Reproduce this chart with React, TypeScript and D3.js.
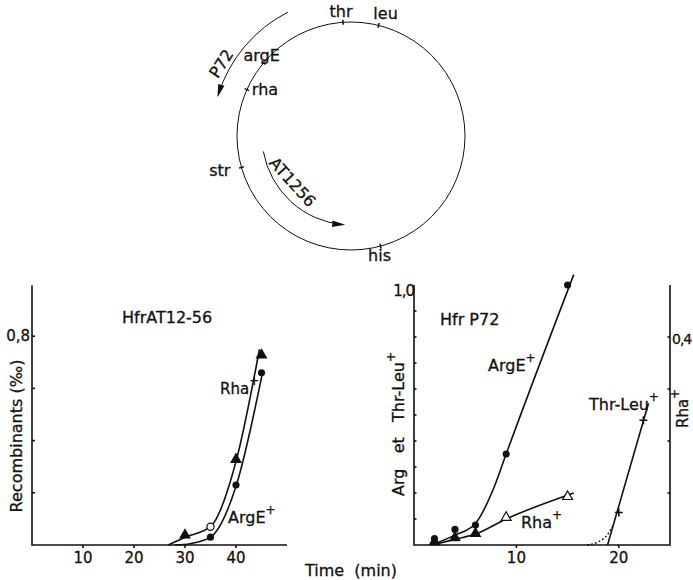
import React, { useEffect, useRef } from 'react';
import * as d3 from 'd3';

// Chromosome map (angle in degrees, clockwise from the top)
const genes = ['thr', 'leu', 'argE', 'rha', 'str', 'his'];
const geneAngles = [-4, 14, -50, -66, -106, 165];

// Hfr AT12-56 panel
const leftTimes = [30, 35, 40, 45];
const leftRha = [0.03, 0.07, 0.32, 0.72];
const leftArgETimes = [35, 40, 45];
const leftArgE = [0.03, 0.23, 0.66];
const leftRhaCurveT = [26.7, 30, 35, 40, 44.6];
const leftRhaCurveV = [0, 0.03, 0.07, 0.32, 0.75];
const leftArgECurveT = [28, 31, 35, 40, 45.3];
const leftArgECurveV = [0, 0.005, 0.03, 0.225, 0.67];

// Hfr P72 panel
const rightTimes = [2, 4, 6, 9, 15];
const rightArgE = [0.025, 0.06, 0.077, 0.35, 1.0];
const rightRha = [0.004, 0.012, 0.02, 0.051, 0.091]; // right axis
const rightThrLeuTimes = [20, 22.4];
const rightThrLeu = [0.125, 0.48];
const argECurveT = [2, 4, 6, 7.8, 9, 15.6];
const argECurveV = [0.005, 0.038, 0.083, 0.22, 0.35, 1.04];
const rhaCurveT = [2.2, 4, 6, 9, 15.6];
const rhaCurveV = [0.002, 0.011, 0.021, 0.05, 0.1];
const thrLeuCurveT = [18.9, 22.9];
const thrLeuCurveV = [0, 0.545];
const thrLeuDotT = [16.9, 18, 18.9, 19.5];
const thrLeuDotV = [0, 0.012, 0.04, 0.08];

const FONT = "'DejaVu Sans', sans-serif";

const App = () => {
  const width = 693;
  const height = 580;
  const svgRef = useRef(null);

  useEffect(() => {
    const root = d3.select(svgRef.current);
    root.selectAll('*').remove();
    const svg = root.append('g').attr('font-family', FONT).attr('fill', '#111');

    // text helper; sup adds a raised "+"
    const txt = (x, y, s, size = 16, anchor = 'start', rotate = 0, sup = false) => {
      const t = svg
        .append('text')
        .attr('transform', `translate(${x},${y}) rotate(${rotate})`)
        .attr('text-anchor', anchor)
        .attr('font-size', size)
        .attr('stroke', '#111')
        .attr('stroke-width', 0.3)
        .style('white-space', 'pre');
      t.append('tspan').text(s);
      if (sup) t.append('tspan').attr('dy', -9).attr('font-size', 12).text('+');
      return t;
    };

    // ---------- chromosome circle ----------
    const cx = 351;
    const cy = 136;
    const r = 114;
    const rad = (deg) => ((deg - 90) * Math.PI) / 180;
    svg.append('circle').attr('cx', cx).attr('cy', cy).attr('r', r)
      .attr('fill', 'none').attr('stroke', '#111').attr('stroke-width', 1);

    const labelOffsets = {
      thr: [-2, -5, 'middle'],
      leu: [7, -6, 'middle'],
      argE: [-2, -2, 'middle'],
      rha: [5, 5, 'start'],
      str: [-11, 9, 'end'],
      his: [-1, 15, 'middle'],
    };
    genes.forEach((g, i) => {
      const a = rad(geneAngles[i]);
      const x = cx + r * Math.cos(a);
      const y = cy + r * Math.sin(a);
      svg.append('line')
        .attr('x1', cx + (r - 2.5) * Math.cos(a)).attr('y1', cy + (r - 2.5) * Math.sin(a))
        .attr('x2', cx + (r + 2.5) * Math.cos(a)).attr('y2', cy + (r + 2.5) * Math.sin(a))
        .attr('stroke', '#111').attr('stroke-width', 1.5);
      const [dx, dy, anchor] = labelOffsets[g];
      txt(x + dx, y + dy, g, 16, anchor);
    });

    // arrows along concentric arcs
    const arrowArc = (radius, a0, a1, label, labelR, labelRot) => {
      const p = d3.path();
      p.arc(cx, cy, radius, rad(a0), rad(a1), a1 < a0);
      svg.append('path').attr('d', p.toString()).attr('fill', 'none')
        .attr('stroke', '#111').attr('stroke-width', 1);
      const e = rad(a1);
      const ex = cx + radius * Math.cos(e);
      const ey = cy + radius * Math.sin(e);
      // tangent for a counter-clockwise move
      const tx = Math.sin(e);
      const ty = -Math.cos(e);
      const nx = Math.cos(e);
      const ny = Math.sin(e);
      const L = 11;
      const W = 3.2;
      svg.append('path')
        .attr('d', `M${ex + tx * 2},${ey + ty * 2} L${ex - tx * L + nx * W},${ey - ty * L + ny * W} L${ex - tx * L - nx * W},${ey - ty * L - ny * W}Z`)
        .attr('fill', '#111');
      const m = rad((a0 + a1) / 2 + labelR[1]);
      txt(cx + labelR[0] * Math.cos(m), cy + labelR[0] * Math.sin(m), label, 16, 'middle', labelRot);
    };
    arrowArc(139, -27, -73, 'P72', [143, -11], -57);
    arrowArc(89, 260, 185, 'AT1256', [80, 9], 48);

    // ---------- left panel ----------
    const xL = d3.scaleLinear().domain([0, 50]).range([32, 287]);
    const yL = d3.scaleLinear().domain([0, 1]).range([545, 284]);
    const axisStroke = (sel) => sel.attr('stroke', '#111').attr('stroke-width', 1.6).attr('fill', 'none');

    axisStroke(svg.append('path').attr('d', `M${xL(0)},${yL(0.995)}V${yL(0)}H${xL(50)}`));
    [0.2, 0.4, 0.6, 0.8].forEach((v) =>
      axisStroke(svg.append('line').attr('x1', xL(0)).attr('x2', xL(0) + 3).attr('y1', yL(v)).attr('y2', yL(v))));
    [10, 20, 30, 40].forEach((t) => {
      axisStroke(svg.append('line').attr('x1', xL(t)).attr('x2', xL(t)).attr('y1', yL(0)).attr('y2', yL(0) + 3));
      txt(xL(t), 563, String(t), 15, 'middle');
    });
    txt(30, 341, '0,8', 15, 'end');
    txt(22, 436, 'Recombinants (‰)', 16, 'middle', -90);
    txt(122, 323, 'HfrAT12-56', 16);

    const line = (xs, ys, curve) =>
      d3.line().x((d) => xs(d[0])).y((d) => ys(d[1])).curve(curve);

    axisStroke(svg.append('path')
      .attr('d', line(xL, yL, d3.curveMonotoneX)(leftRhaCurveT.map((t, i) => [t, leftRhaCurveV[i]])))
      .attr('stroke-width', 1.5));
    axisStroke(svg.append('path')
      .attr('d', line(xL, yL, d3.curveMonotoneX)(leftArgECurveT.map((t, i) => [t, leftArgECurveV[i]])))
      .attr('stroke-width', 1.5));

    const tri = d3.symbol().type(d3.symbolTriangle).size(42);
    const circ = d3.symbol().type(d3.symbolCircle).size(40);
    leftTimes.forEach((t, i) => {
      const open = t === 35;
      svg.append('path').attr('d', open ? circ() : tri())
        .attr('transform', `translate(${xL(t)},${yL(leftRha[i]) - (open ? 0 : 2)})`)
        .attr('fill', open ? '#fff' : '#111').attr('stroke', '#111').attr('stroke-width', 1.2);
    });
    leftArgETimes.forEach((t, i) => {
      svg.append('path').attr('d', circ()).attr('transform', `translate(${xL(t)},${yL(leftArgE[i])})`)
        .attr('fill', '#111');
    });
    txt(220, 394, 'Rha', 15, 'start', 0, true);
    txt(228, 523, 'ArgE', 16, 'start', 0, true);
    txt(305, 576, 'Time  (min)', 16);

    // ---------- right panel ----------
    const xR = d3.scaleLinear().domain([0, 25]).range([414, 670]);
    const yR = d3.scaleLinear().domain([0, 1]).range([545, 285]);
    const yR2 = d3.scaleLinear().domain([0, 0.5]).range([545, 285]);

    axisStroke(svg.append('path').attr('d', `M${xR(0)},${yR(1)}V${yR(0)}H${xR(25)}V${yR2(0.5)}`));
    d3.range(1, 10).forEach((k) =>
      axisStroke(svg.append('line').attr('x1', xR(0)).attr('x2', xR(0) + 2.5)
        .attr('y1', yR(k / 10)).attr('y2', yR(k / 10)).attr('stroke-width', 1.2)));
    [0.1, 0.2, 0.3, 0.4].forEach((v) =>
      axisStroke(svg.append('line').attr('x1', xR(25)).attr('x2', xR(25) - 2.5)
        .attr('y1', yR2(v)).attr('y2', yR2(v)).attr('stroke-width', 1.2)));
    [10, 20].forEach((t) => {
      axisStroke(svg.append('line').attr('x1', xR(t)).attr('x2', xR(t)).attr('y1', yR(0)).attr('y2', yR(0) + 3));
      txt(xR(t), 563, String(t), 15, 'middle');
    });
    txt(414, 296, '1,0', 15, 'end').attr('letter-spacing', -1);
    txt(672, 344, '0,4', 14, 'start').attr('letter-spacing', -1);
    txt(404, 424, 'Arg   et   Thr-Leu', 16, 'middle', -90, true);
    txt(688, 428, 'Rha', 15, 'start', -90, true);
    txt(440, 325, 'Hfr P72', 16);

    const rPath = (xs, ys, ts, vs, curve, dash = null) => {
      const p = axisStroke(svg.append('path')
        .attr('d', line(xs, ys, curve)(ts.map((t, i) => [t, vs[i]])))
        .attr('stroke-width', 1.5));
      if (dash) p.attr('stroke-dasharray', '2,2').attr('stroke-width', 1.3);
    };
    rPath(xR, yR, argECurveT, argECurveV, d3.curveMonotoneX);
    rPath(xR, yR2, rhaCurveT, rhaCurveV, d3.curveMonotoneX);
    rPath(xR, yR, thrLeuCurveT, thrLeuCurveV, d3.curveLinear);
    rPath(xR, yR, thrLeuDotT, thrLeuDotV, d3.curveMonotoneX, true);

    rightTimes.forEach((t, i) => {
      const filled = t <= 6;
      svg.append('path').attr('d', tri()).attr('transform', `translate(${xR(t)},${yR2(rightRha[i]) - 1})`)
        .attr('fill', filled ? '#111' : '#fff').attr('stroke', '#111').attr('stroke-width', 1.2);
      svg.append('path').attr('d', circ()).attr('transform', `translate(${xR(t)},${yR(rightArgE[i])})`)
        .attr('fill', '#111');
    });
    rightThrLeuTimes.forEach((t, i) => {
      axisStroke(svg.append('path').attr('d', 'M-4,0H4M0,-4V4')
        .attr('transform', `translate(${xR(t)},${yR(rightThrLeu[i])})`).attr('stroke-width', 1.2));
    });
    txt(488, 371, 'ArgE', 16, 'start', 0, true);
    txt(521, 528, 'Rha', 16, 'start', 0, true);
    txt(589, 410, 'Thr-Leu', 16, 'start', 0, true);
  }, []);

  return (
    <svg
      ref={svgRef}
      width={width}
      height={height}
      style={{ position: 'absolute', left: 0, top: 0, background: '#fff' }}
    />
  );
};

export default App;
